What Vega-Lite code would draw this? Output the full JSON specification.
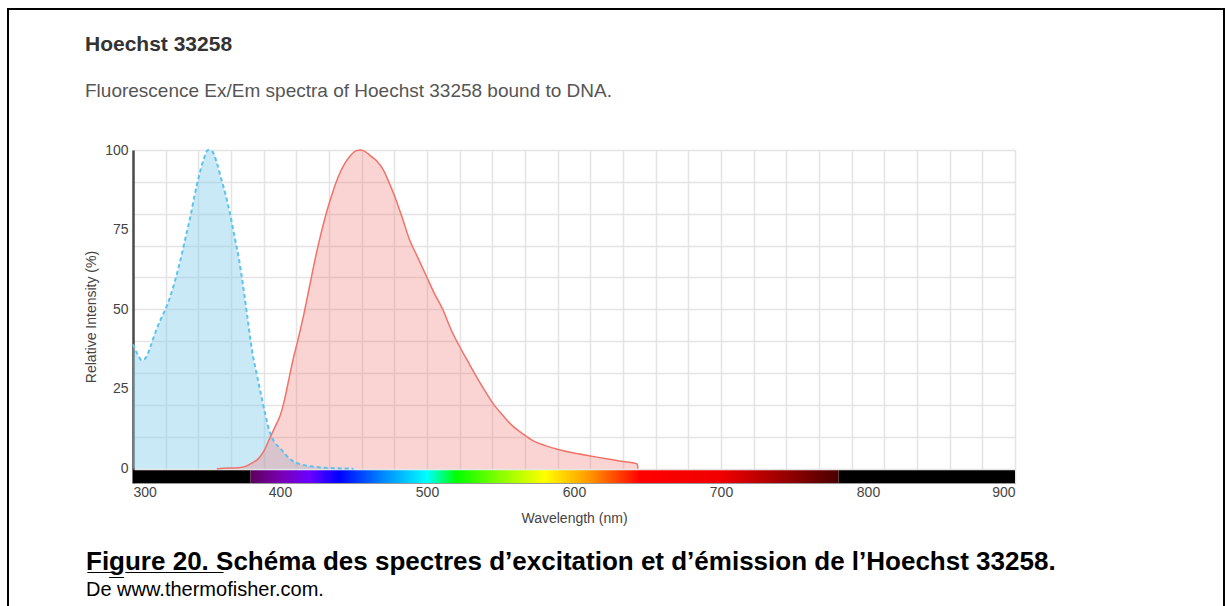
{
  "$schema": "https://vega.github.io/schema/vega-lite/v6.json",
  "padding": {"left": 7, "top": 8, "right": 0, "bottom": 0},
  "background": "white",
  "config": {
    "view": {"stroke": null},
    "axis": {"labelFont": "Liberation Sans", "titleFont": "Liberation Sans", "titleFontWeight": "normal", "gridColor": "#e4e4e4", "gridWidth": 1.5}
  },
  "datasets": {
    "ex": [
      {"wl": 300, "pct": 39}, {"wl": 303, "pct": 36}, {"wl": 306, "pct": 34}, {"wl": 309, "pct": 35},
      {"wl": 312, "pct": 38.5}, {"wl": 315, "pct": 42.5}, {"wl": 319, "pct": 47}, {"wl": 323, "pct": 51},
      {"wl": 328, "pct": 58}, {"wl": 332, "pct": 65}, {"wl": 336, "pct": 73}, {"wl": 339, "pct": 79},
      {"wl": 342, "pct": 86}, {"wl": 345, "pct": 92}, {"wl": 348, "pct": 97}, {"wl": 351, "pct": 100},
      {"wl": 354, "pct": 99.5}, {"wl": 357, "pct": 96}, {"wl": 360, "pct": 91}, {"wl": 363, "pct": 86},
      {"wl": 366, "pct": 80}, {"wl": 369, "pct": 73}, {"wl": 372, "pct": 66}, {"wl": 375, "pct": 57},
      {"wl": 378, "pct": 47}, {"wl": 381, "pct": 37}, {"wl": 384, "pct": 30}, {"wl": 387, "pct": 23.5},
      {"wl": 390, "pct": 17}, {"wl": 393, "pct": 11.5}, {"wl": 396, "pct": 8.5}, {"wl": 400, "pct": 6.5},
      {"wl": 404, "pct": 4.3}, {"wl": 408, "pct": 2.6}, {"wl": 413, "pct": 1.5}, {"wl": 420, "pct": 0.8},
      {"wl": 430, "pct": 0.3}, {"wl": 440, "pct": 0.1}, {"wl": 450, "pct": 0}
    ],
    "em": [
      {"wl": 357, "pct": 0}, {"wl": 365, "pct": 0.2}, {"wl": 372, "pct": 0.3}, {"wl": 377, "pct": 0.8},
      {"wl": 381, "pct": 1.8}, {"wl": 385, "pct": 3}, {"wl": 389, "pct": 5.5}, {"wl": 393, "pct": 9.5},
      {"wl": 397, "pct": 13.5}, {"wl": 400, "pct": 16.5}, {"wl": 403, "pct": 21.5}, {"wl": 406, "pct": 28},
      {"wl": 409, "pct": 34.5}, {"wl": 412, "pct": 40}, {"wl": 416, "pct": 48}, {"wl": 420, "pct": 57},
      {"wl": 424, "pct": 66}, {"wl": 428, "pct": 74}, {"wl": 432, "pct": 81}, {"wl": 436, "pct": 87},
      {"wl": 440, "pct": 92}, {"wl": 444, "pct": 95.7}, {"wl": 448, "pct": 98.3}, {"wl": 452, "pct": 99.8},
      {"wl": 455, "pct": 100}, {"wl": 458, "pct": 99.5}, {"wl": 462, "pct": 98}, {"wl": 466, "pct": 96.5},
      {"wl": 470, "pct": 94}, {"wl": 474, "pct": 90}, {"wl": 478, "pct": 85.5}, {"wl": 483, "pct": 79},
      {"wl": 488, "pct": 72}, {"wl": 494, "pct": 66}, {"wl": 500, "pct": 60}, {"wl": 505, "pct": 55},
      {"wl": 511, "pct": 49.7}, {"wl": 516, "pct": 44}, {"wl": 522, "pct": 38.5}, {"wl": 528, "pct": 33.5},
      {"wl": 534, "pct": 28.6}, {"wl": 540, "pct": 24}, {"wl": 545, "pct": 20.4}, {"wl": 552, "pct": 16.5},
      {"wl": 558, "pct": 13.5}, {"wl": 565, "pct": 11}, {"wl": 572, "pct": 8.8}, {"wl": 580, "pct": 7.3},
      {"wl": 588, "pct": 6.2}, {"wl": 600, "pct": 4.9}, {"wl": 611, "pct": 4}, {"wl": 622, "pct": 3.1},
      {"wl": 632, "pct": 2.3}, {"wl": 643, "pct": 1.5}, {"wl": 643.5, "pct": 0}
    ],
    "dark": [{"start": 300, "end": 380}, {"start": 780, "end": 900}],
    "visible": [{"start": 380, "end": 780}]
  },
  "title": {
    "text": "F̲i̲g̲u̲r̲e̲ ̲2̲0̲.̲ ̲Schéma des spectres d’excitation et d’émission de l’Hoechst 33258.",
    "subtitle": "De www.thermofisher.com.",
    "orient": "bottom", "anchor": "start", "frame": "group", "offset": -76, "dx": 78,
    "font": "Liberation Sans", "fontSize": 26, "fontWeight": "bold", "color": "#000000",
    "subtitleFont": "Liberation Sans", "subtitleFontSize": 20, "subtitleColor": "#000000",
    "subtitlePadding": 5
  },
  "vconcat": [
    {
      "width": 1216,
      "height": 615,
      "view": {"stroke": "#000000", "strokeWidth": 2},
      "title": {
        "text": "Hoechst 33258",
        "subtitle": "Fluorescence Ex/Em spectra of Hoechst 33258 bound to DNA.",
        "anchor": "start", "frame": "group", "offset": -91.5, "dx": 77,
        "font": "Liberation Sans", "fontSize": 21, "fontWeight": "bold", "color": "#333333",
        "subtitleFont": "Liberation Sans", "subtitleFontSize": 19, "subtitleColor": "#555555",
        "subtitlePadding": 27
      },
      "resolve": {"axis": {"x": "independent", "y": "independent"}},
      "layer": [
        {
          "data": {"name": "ex"},
          "mark": {"type": "area", "color": "#87ceeb", "fillOpacity": 0.45, "interpolate": "monotone"},
          "encoding": {
            "x": {"field": "wl", "type": "quantitative", "scale": {"domain": [300, 900], "range": [125, 1007], "nice": false, "zero": false},
              "axis": {"orient": "bottom", "values": [300, 322.22, 344.44, 366.67, 388.89, 411.11, 433.33, 455.56, 477.78, 500, 522.22, 544.44, 566.67, 588.89, 611.11, 633.33, 655.56, 677.78, 700, 722.22, 744.44, 766.67, 788.89, 811.11, 833.33, 855.56, 877.78, 900],
                "grid": true, "labels": false, "ticks": false, "domain": false, "title": null}},
            "y": {"field": "pct", "type": "quantitative", "scale": {"domain": [-4.5, 100], "range": [474, 141], "nice": false, "zero": false},
              "axis": {"orient": "left", "values": [0, 10, 20, 30, 40, 50, 60, 70, 80, 90, 100],
                "grid": true, "labels": false, "ticks": false, "domain": false, "title": null}},
            "y2": {"datum": 0}
          }
        },
        {
          "data": {"name": "em"},
          "mark": {"type": "area", "color": "#f08080", "fillOpacity": 0.35, "interpolate": "monotone"},
          "encoding": {
            "x": {"field": "wl", "type": "quantitative", "axis": null},
            "y": {"field": "pct", "type": "quantitative", "axis": null},
            "y2": {"datum": 0}
          }
        },
        {
          "data": {"name": "ex"},
          "mark": {"type": "line", "color": "#5bc3ee", "strokeWidth": 2, "strokeDash": [4, 3], "interpolate": "monotone"},
          "encoding": {
            "x": {"field": "wl", "type": "quantitative", "axis": null},
            "y": {"field": "pct", "type": "quantitative",
              "axis": {"orient": "left", "offset": -125, "values": [0, 25, 50, 75, 100], "grid": false, "ticks": false,
                "domainColor": "#4a4a4a", "domainWidth": 2.5, "labelOverlap": false,
                "labelFontSize": 14, "labelColor": "#444444", "labelPadding": 5,
                "title": "Relative Intensity (%)", "titleFontSize": 14, "titleColor": "#444444", "titlePadding": 6}}
          }
        },
        {
          "data": {"name": "em"},
          "mark": {"type": "line", "color": "#f0736a", "strokeWidth": 1.5, "interpolate": "monotone"},
          "encoding": {
            "x": {"field": "wl", "type": "quantitative", "axis": null},
            "y": {"field": "pct", "type": "quantitative", "axis": null}
          }
        },
        {
          "data": {"name": "dark"},
          "mark": {"type": "rect", "color": "#000000"},
          "encoding": {
            "x": {"field": "start", "type": "quantitative",
              "axis": {"orient": "bottom", "offset": -141, "values": [300, 400, 500, 600, 700, 800, 900], "grid": false, "ticks": false,
                "domain": true, "domainColor": "#999999", "domainWidth": 1, "labelFlush": true, "labelPadding": 2, "labelOverlap": false,
                "labelFontSize": 14, "labelColor": "#444444",
                "title": "Wavelength (nm)", "titleFontSize": 14, "titleColor": "#444444", "titlePadding": 12}},
            "x2": {"field": "end"},
            "y": {"datum": -0.5, "axis": null},
            "y2": {"datum": -4.5}
          }
        },
        {
          "data": {"name": "visible"},
          "mark": {"type": "rect", "color": {"gradient": "linear", "x1": 0, "x2": 1, "y1": 0, "y2": 0, "stops": [
            {"offset": 0, "color": "#5c005c"},
            {"offset": 0.05, "color": "#7a00b0"},
            {"offset": 0.1, "color": "#6a00ff"},
            {"offset": 0.15, "color": "#0000ff"},
            {"offset": 0.225, "color": "#0088ff"},
            {"offset": 0.3, "color": "#00ffff"},
            {"offset": 0.35, "color": "#00ff00"},
            {"offset": 0.425, "color": "#88ff00"},
            {"offset": 0.5, "color": "#ffff00"},
            {"offset": 0.575, "color": "#ff9900"},
            {"offset": 0.6625, "color": "#ff0000"},
            {"offset": 0.8, "color": "#f00000"},
            {"offset": 0.9, "color": "#a00000"},
            {"offset": 1, "color": "#4a0000"}
          ]}},
          "encoding": {
            "x": {"field": "start", "type": "quantitative", "axis": null},
            "x2": {"field": "end"},
            "y": {"datum": -0.5, "axis": null},
            "y2": {"datum": -4.5}
          }
        }
      ]
    }
  ]
}
